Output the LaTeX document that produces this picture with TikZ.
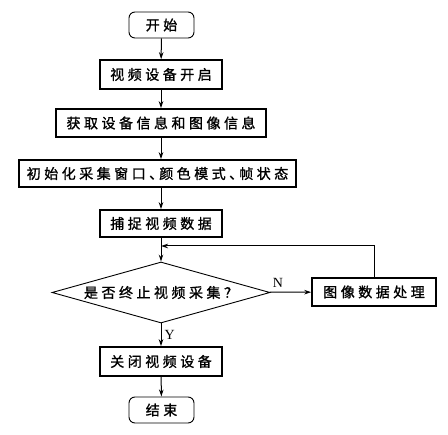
\documentclass[tikz,border=0pt]{standalone}
\usepackage{fontspec}
\newfontfamily\cjk[LetterSpace=25,FakeBold=1.2]{Noto Sans CJK SC}
\newfontfamily\lat{Liberation Serif}
\usetikzlibrary{shapes.geometric,arrows.meta}
\newcommand{\dun}{、\kern-4pt}
\begin{document}
\begin{tikzpicture}[x=1pt,y=-1pt,
  every node/.style={font=\cjk\fontsize{14pt}{16pt}\selectfont, inner sep=0pt},
  term/.style={draw, line width=0.9pt, rounded corners=6pt, minimum width=65pt, minimum height=26pt},
  proc/.style={draw, line width=1.6pt, minimum height=28pt},
  dec/.style={draw, line width=0.9pt, shape=diamond, aspect=3.57, minimum width=218pt, minimum height=61pt},
  arr/.style={line width=1pt, -{Stealth[length=7pt,width=4.5pt]}},
  lab/.style={font=\lat\fontsize{14pt}{16pt}\selectfont}]
\useasboundingbox (0,0) rectangle (448,435);
\node[term] (start) at (161.5,25) {开始};
\node[proc, minimum width=122pt, minimum height=29pt] (b1) at (161,74.5) {视频设备开启};
\node[proc, minimum width=210pt] (b2) at (161,123) {获取设备信息和图像信息};
\node[proc, minimum width=277pt, minimum height=27pt] (b3) at (157.5,173.5) {初始化采集窗口\dun 颜色模式\dun 帧状态};
\node[proc, minimum width=122pt, minimum height=27pt] (b4) at (161,223.5) {捕捉视频数据};
\node[dec] (d) at (161,292.5) {是否终止视频采集？};
\node[proc, minimum width=124pt] (p) at (374,292) {图像数据处理};
\node[proc, minimum width=122pt, minimum height=29pt] (b5) at (161,361.5) {关闭视频设备};
\node[term] (end) at (161.5,410) {结束};
\coordinate (join) at (161,246);
\draw[arr] (start) -- (b1);
\draw[arr] (b1) -- (b2);
\draw[arr] (b2.south) -- (b2.south |- b3.north);
\draw[arr] (b3.south -| b4.south) -- (b4.north);
\draw[arr] (b4) -- (d);
\draw[arr] (d) -- node[lab, above, pos=0.2, yshift=4pt] (n) {N} (p);
\draw[arr] (p.north) |- (join);
\draw[arr] (d) -- node[lab, right, xshift=3pt] (y) {Y} (b5);
\draw[arr] (b5) -- (end);
\end{tikzpicture}
\end{document}
